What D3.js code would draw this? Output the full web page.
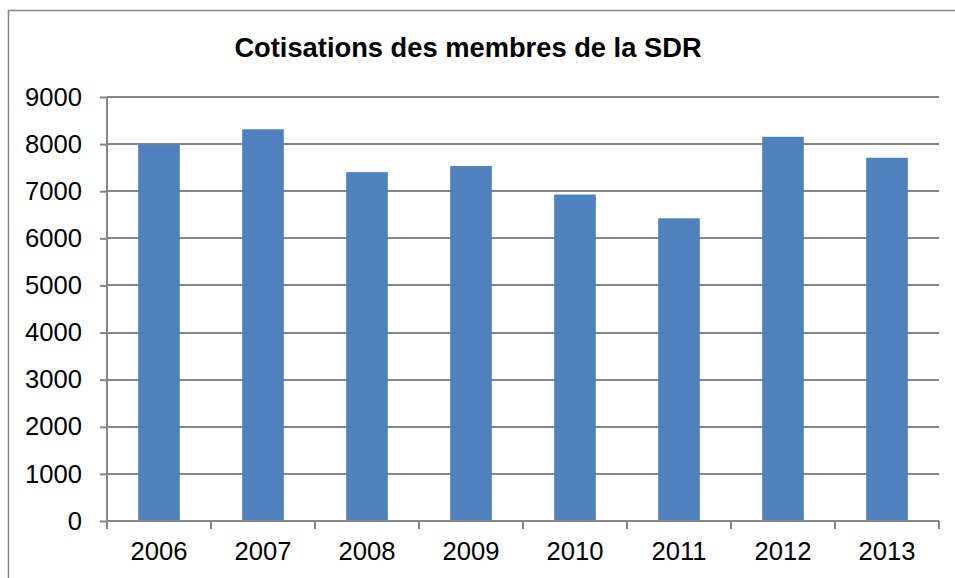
<!DOCTYPE html>
<html>
<head>
<meta charset="utf-8">
<script src="https://cdn.jsdelivr.net/npm/d3@7"></script>
<style>
  body { margin: 0; background: #fff; }
  text { font-family: Arial, "Liberation Sans", sans-serif; }
</style>
</head>
<body>
<script>
// data
const years = ["2006", "2007", "2008", "2009", "2010", "2011", "2012", "2013"];
const cotisations = [7995, 8315, 7405, 7535, 6930, 6425, 8155, 7710];
const yTicks = [0, 1000, 2000, 3000, 4000, 5000, 6000, 7000, 8000, 9000];
const title = "Cotisations des membres de la SDR";

const width = 955, height = 578;
const margin = {top: 97, right: 16, bottom: 57, left: 107};

const svg = d3.select("body")
    .append("svg")
    .attr("width", width)
    .attr("height", height);

// outer chart border (runs off the right and bottom edges)
svg.append("rect")
    .attr("x", 8.5)
    .attr("y", 10.5)
    .attr("width", 960)
    .attr("height", 600)
    .attr("fill", "none")
    .attr("stroke", "#868686")
    .attr("stroke-width", 1.5);

const x = d3.scaleBand()
    .domain(years)
    .range([margin.left, width - margin.right])
    .paddingInner(0.6)
    .paddingOuter(0.3);

const y = d3.scaleLinear()
    .domain([0, 9000])
    .range([height - margin.bottom, margin.top]);

// gridlines
svg.append("g")
    .selectAll("line")
    .data(yTicks.filter(d => d > 0))
    .join("line")
    .attr("x1", margin.left)
    .attr("x2", width - margin.right)
    .attr("y1", d => Math.round(y(d)))
    .attr("y2", d => Math.round(y(d)))
    .attr("stroke", "#868686")
    .attr("stroke-width", 2);

// bars
svg.append("g")
    .selectAll("rect")
    .data(years.map((yr, i) => ({year: yr, value: cotisations[i]})))
    .join("rect")
    .attr("x", d => x(d.year))
    .attr("y", d => y(d.value))
    .attr("width", x.bandwidth())
    .attr("height", d => y(0) - y(d.value))
    .attr("fill", "#4F81BD");

// y axis
const yAxis = svg.append("g")
    .attr("transform", `translate(${margin.left},0)`)
    .call(d3.axisLeft(y).tickValues(yTicks).tickSize(7).tickPadding(18).tickFormat(d3.format("d")));
yAxis.select(".domain").attr("stroke", "#868686").attr("stroke-width", 2)
    .attr("d", `M0,${margin.top}V${y(0) + 8}`);
yAxis.selectAll(".tick line").attr("stroke", "#868686").attr("stroke-width", 2);
yAxis.selectAll(".tick text")
    .attr("font-size", 25.6)
    .attr("fill", "#000")
    .style("font-family", "Arial, 'Liberation Sans', sans-serif");

// x axis
const xAxis = svg.append("g")
    .attr("transform", `translate(0,${Math.round(y(0))})`)
    .call(d3.axisBottom(x).tickSize(0).tickPadding(21));
xAxis.select(".domain").attr("stroke", "#868686").attr("stroke-width", 2)
    .attr("d", `M${margin.left},0H${width - margin.right}`);
xAxis.selectAll(".tick text")
    .attr("font-size", 25.6)
    .attr("fill", "#000")
    .style("font-family", "Arial, 'Liberation Sans', sans-serif");

// category boundary ticks
xAxis.append("g")
    .selectAll("line")
    .data(d3.range(years.length + 1))
    .join("line")
    .attr("x1", i => Math.round(margin.left + i * x.step()))
    .attr("x2", i => Math.round(margin.left + i * x.step()))
    .attr("y1", 0)
    .attr("y2", 8)
    .attr("stroke", "#868686")
    .attr("stroke-width", 2);

// title
svg.append("text")
    .attr("x", 468)
    .attr("y", 57)
    .attr("text-anchor", "middle")
    .attr("font-size", 27.3)
    .attr("font-weight", "bold")
    .attr("fill", "#000")
    .text(title);
</script>
</body>
</html>
